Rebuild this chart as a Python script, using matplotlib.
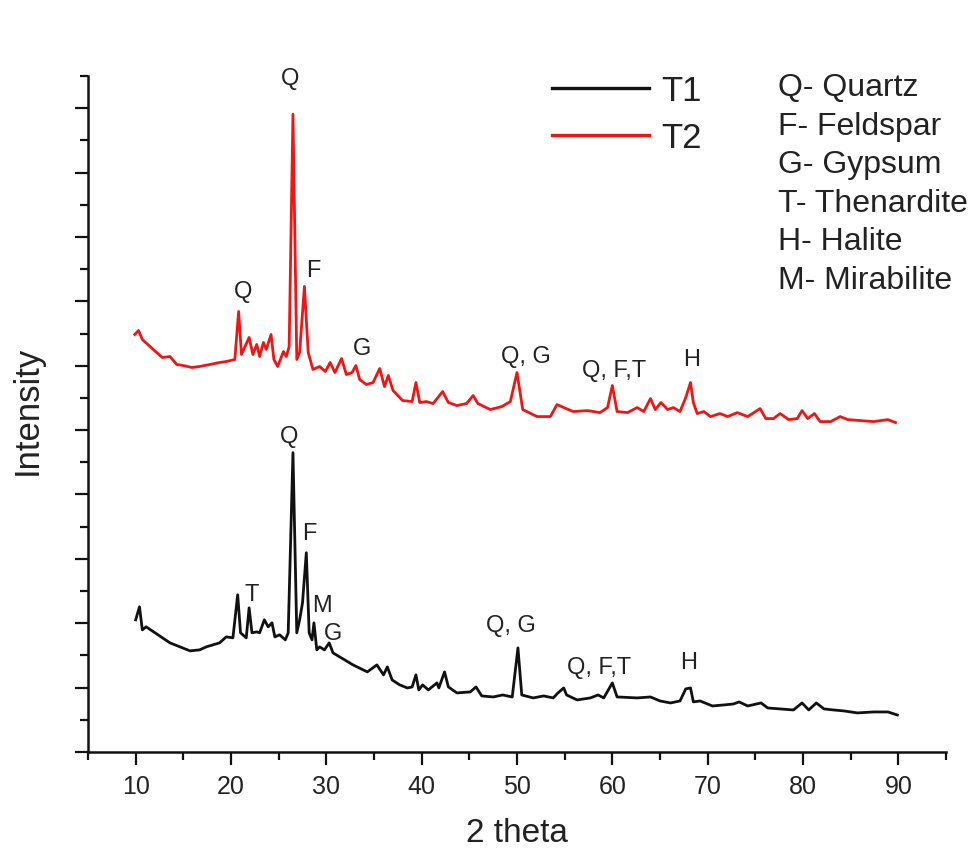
import matplotlib
matplotlib.use("Agg")
import matplotlib.pyplot as plt
from matplotlib.lines import Line2D
from matplotlib.ticker import MultipleLocator

plt.rcParams["font.family"] = ["Liberation Sans", "DejaVu Sans"]

# XRD patterns (2 theta in degrees, intensity in arbitrary counts)
t1_theta = [10.0, 10.4, 10.7, 11.1, 13.6, 15.7, 16.7, 17.4, 18.8, 19.5, 20.2, 20.7,
            21.0, 21.6, 21.9, 22.2, 22.7, 23.0, 23.5, 23.9, 24.3, 24.6, 25.1, 25.7,
            26.0, 26.5, 26.9, 27.2, 27.5, 27.9, 28.2, 28.5, 28.7, 29.0, 29.3, 29.8,
            30.3, 30.7, 31.4, 32.8, 34.3, 35.3, 36.0, 36.4, 36.9, 37.7, 38.5, 39.0,
            39.4, 39.7, 40.1, 40.7, 41.6, 41.8, 42.4, 42.8, 43.7, 45.1, 45.7, 46.3,
            47.5, 48.5, 49.5, 50.1, 50.5, 51.7, 52.8, 53.8, 54.3, 54.9, 55.2, 56.3,
            57.7, 58.5, 59.1, 60.0, 60.5, 62.6, 64.0, 65.0, 66.1, 67.1, 67.7, 68.2,
            68.5, 69.2, 70.5, 71.7, 72.7, 73.3, 74.2, 75.6, 76.3, 77.6, 79.0, 79.9,
            80.6, 81.4, 82.2, 83.2, 84.3, 85.7, 87.4, 88.9, 89.9]
t1_counts = [2053, 2255, 1897, 1944, 1695, 1571, 1586, 1633, 1695, 1788, 1773, 2442,
             1851, 1773, 2239, 1851, 1866, 1851, 2053, 1944, 2006, 1788, 1820, 1742,
             1851, 4650, 1851, 2053, 2317, 3095, 1851, 1742, 2006, 1586, 1633, 1586,
             1695, 1540, 1477, 1353, 1244, 1353, 1198, 1322, 1120, 1042, 995, 1011,
             1198, 964, 1042, 964, 1073, 995, 1244, 1011, 918, 933, 1011, 871,
             855, 886, 855, 1617, 886, 840, 871, 840, 918, 995, 886, 809,
             840, 886, 840, 1073, 855, 840, 855, 793, 762, 793, 980, 995,
             778, 793, 715, 731, 746, 778, 715, 762, 684, 669, 653, 762,
             653, 762, 669, 653, 638, 607, 622, 622, 575]

t2_theta = [9.9, 10.3, 10.7, 11.5, 12.2, 12.8, 13.6, 14.3, 15.0, 15.9, 16.7, 17.8,
            18.8, 19.5, 20.4, 20.8, 21.1, 21.9, 22.3, 22.7, 23.0, 23.4, 23.7, 24.2,
            24.5, 24.9, 25.5, 25.8, 26.1, 26.5, 26.9, 27.2, 27.7, 28.1, 28.6, 29.3,
            29.9, 30.4, 30.9, 31.6, 32.1, 32.7, 33.1, 33.5, 34.2, 34.9, 35.6, 36.1,
            36.5, 37.0, 38.0, 39.0, 39.4, 39.8, 40.5, 41.2, 42.2, 42.8, 43.7, 44.7,
            45.4, 45.9, 47.2, 48.4, 49.3, 50.0, 50.6, 52.1, 53.5, 54.2, 54.9, 55.9,
            57.4, 58.7, 59.5, 60.0, 60.5, 61.6, 62.6, 63.3, 64.0, 64.5, 65.1, 65.8,
            66.4, 67.1, 67.7, 68.2, 68.5, 68.9, 69.6, 70.3, 71.3, 72.1, 73.1, 74.2,
            75.5, 76.1, 76.9, 77.6, 78.5, 79.4, 79.9, 80.5, 81.2, 81.8, 82.9, 83.9,
            84.7, 86.0, 87.4, 88.9, 89.7]
t2_counts = [6485, 6547, 6407, 6299, 6205, 6127, 6143, 6019, 6003, 5972, 5988, 6019,
             6050, 6065, 6096, 6843, 6174, 6439, 6174, 6330, 6143, 6361, 6252, 6485,
             6096, 5988, 6221, 6143, 6299, 9907, 6096, 6205, 7232, 6205, 5941, 5988,
             5910, 6050, 5894, 6112, 5863, 5894, 6003, 5785, 5708, 5739, 5956, 5676,
             5848, 5614, 5459, 5443, 5739, 5428, 5443, 5412, 5599, 5428, 5381, 5412,
             5537, 5412, 5319, 5365, 5443, 5894, 5319, 5210, 5210, 5397, 5350, 5288,
             5303, 5272, 5350, 5692, 5288, 5272, 5350, 5288, 5490, 5319, 5428, 5319,
             5350, 5288, 5505, 5739, 5428, 5257, 5288, 5210, 5257, 5210, 5272, 5210,
             5334, 5179, 5179, 5257, 5163, 5179, 5303, 5179, 5257, 5132, 5132, 5210,
             5163, 5148, 5132, 5163, 5117]

# Phase labels: (text, 2 theta, counts)
t1_labels = [("Q", 26.1, 4899), ("T", 22.2, 2442), ("F", 28.2, 3390),
             ("M", 29.5, 2271), ("G", 30.7, 1835), ("Q, G", 49.4, 1960),
             ("Q, F,T", 58.6, 1306), ("H", 68.0, 1384)]
t2_labels = [("Q", 26.2, 10451), ("Q", 21.3, 7138), ("F", 28.6, 7465),
             ("G", 33.7, 6252), ("Q, G", 50.9, 6128), ("Q, F,T", 60.2, 5925),
             ("H", 68.3, 6096)]

phase_key = ["Q- Quartz", "F- Feldspar", "G- Gypsum", "T- Thenardite",
             "H- Halite", "M- Mirabilite"]

series_names = ["T1", "T2"]
series_colors = ["#111111", "#ee1515"]

fig = plt.figure(figsize=(9.69, 8.57), dpi=100)
ax = fig.add_axes([88 / 969, 1 - 752 / 857, (946 - 88) / 969, (752 - 76) / 857])

ax.plot(t1_theta, t1_counts, color=series_colors[0], lw=2.0, solid_joinstyle="round")
ax.plot(t2_theta, t2_counts, color=series_colors[1], lw=2.0, solid_joinstyle="round")

ax.set_xlim(5, 95)
ax.set_ylim(0, 10500)
ax.xaxis.set_major_locator(MultipleLocator(10))
ax.xaxis.set_minor_locator(MultipleLocator(5))
ax.yaxis.set_major_locator(MultipleLocator(1000))
ax.yaxis.set_minor_locator(MultipleLocator(500))
ax.set_yticklabels([])
ax.set_xticks(range(10, 91, 10))
ax.set_xticklabels([str(v) for v in range(10, 91, 10)])

for side in ("top", "right"):
    ax.spines[side].set_visible(False)
for side in ("left", "bottom"):
    ax.spines[side].set_linewidth(1.8)
    ax.spines[side].set_color("#111111")

ax.tick_params(which="major", length=9.5, width=1.6, color="#111111",
               labelsize=18, labelcolor="#222222", pad=7)
ax.tick_params(which="minor", length=5.5, width=1.6, color="#111111")

ax.set_xlabel("2 theta", fontsize=24, color="#222222")
ax.xaxis.set_label_coords(0.5, -0.098)
ax.set_ylabel("Intensity", fontsize=25, color="#222222")
ax.yaxis.set_label_coords(-0.052, 0.506)

for text, x, y in t1_labels + t2_labels:
    ax.text(x, y, text, ha="center", va="center", fontsize=17, color="#222222")

handles = [Line2D([], [], color=c, lw=2.4) for c in series_colors]
ax.legend(handles, series_names, loc="upper left", bbox_to_anchor=(0.541, 1.002),
          frameon=False, fontsize=25, handlelength=2.8, handletextpad=0.35,
          labelspacing=0.4, borderpad=0, borderaxespad=0, labelcolor="#222222")

for i, entry in enumerate(phase_key):
    yb = (752 - (96 + 38.6 * i)) / 676
    ax.text(0.804, yb, entry, transform=ax.transAxes, ha="left", va="baseline",
            fontsize=23, color="#222222", clip_on=False)

fig.savefig("out.png", dpi=100, facecolor="white")
